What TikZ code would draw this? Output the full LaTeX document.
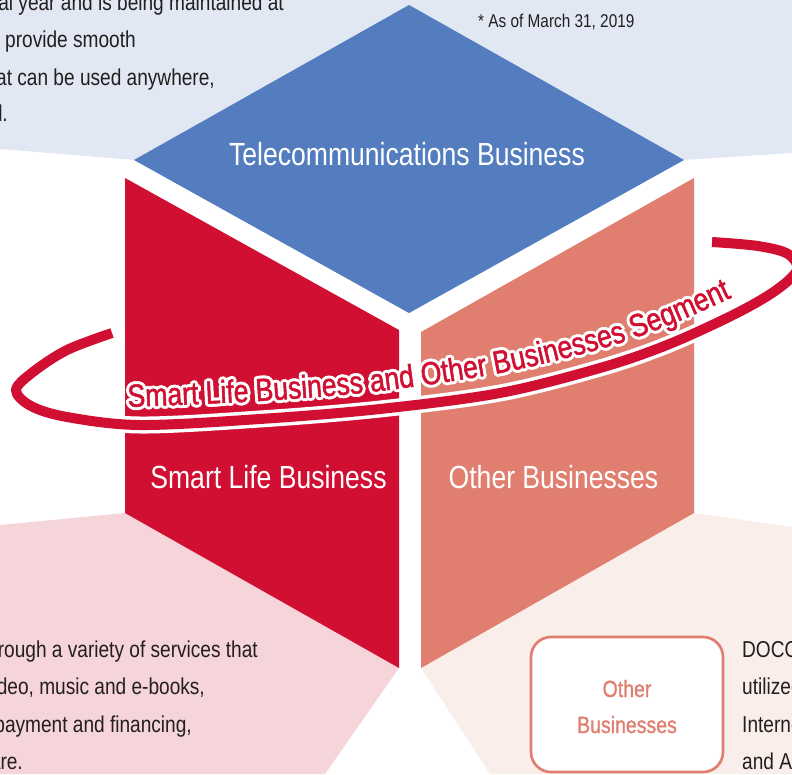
\documentclass[tikz,border=0pt]{standalone}
\usepackage{fontspec}
\setmainfont{Liberation Sans}[FakeStretch=0.83]
\newfontfamily\ringfamily{Liberation Sans}[FakeStretch=0.83, FakeBold=1.5]
\newfontfamily\boxfamily{Liberation Sans}[FakeStretch=0.83, FakeBold=1]
\usetikzlibrary{decorations.text}
\definecolor{bgblue}{HTML}{E1E7F3}
\definecolor{teleblue}{HTML}{537DBF}
\definecolor{smartred}{HTML}{D10F32}
\definecolor{othersal}{HTML}{E07F6F}
\definecolor{bgpink}{HTML}{F5D4DA}
\definecolor{bgsal}{HTML}{FAEEEB}
\definecolor{bodytext}{HTML}{231F20}
\newcommand\ringwhite{\ringfamily\fontsize{32}{36}\selectfont\color{white}}
\newcommand\ringred{\ringfamily\fontsize{32}{36}\selectfont\color{smartred}}
\tikzset{
  bodyline/.style={inner sep=0pt, text=bodytext, font=\fontsize{23}{27}\selectfont},
  panellabel/.style={inner sep=0pt, text=white, font=\fontsize{32}{38}\selectfont},
  notetext/.style={inner sep=0pt, text=bodytext, font=\fontsize{18.5}{22}\selectfont},
  boxlabel/.style={inner sep=0pt, text=othersal, font=\boxfamily\fontsize{23.5}{28}\selectfont},
  otherbox/.style={draw=othersal, line width=2.7pt, rounded corners=20pt, fill=white,
    minimum width=192pt, minimum height=135pt, inner sep=0pt},
}
\begin{document}
\begin{tikzpicture}[x=1pt,y=-1pt]
\useasboundingbox (0,0) rectangle (792,774);
\clip (0,0) rectangle (792,774);
% background fields
\fill[bgblue] (0,0) -- (792,0) -- (792,153) -- (683,160) -- (409,313) -- (135,160) -- (0,149) -- cycle;
\fill[bgpink] (0,525) -- (125,513) -- (399,668) -- (325,774) -- (0,774) -- cycle;
\fill[bgsal] (694,513) -- (792,527) -- (792,774) -- (490,774) -- (421,668) -- cycle;
% cube faces
\fill[teleblue] (409,5) -- (684,160) -- (409,313) -- (134,160) -- cycle;
\fill[smartred] (125,178) -- (399,330) -- (399,668) -- (125,513) -- cycle;
\fill[othersal] (421,332) -- (694,178) -- (694,513) -- (421,668) -- cycle;
% labels
\node[panellabel, anchor=base] (tele) at (407,165) {Telecommunications Business};
\node[panellabel, anchor=base] (smart) at (268.5,488) {Smart Life Business};
\node[panellabel, anchor=base] (other) at (553.5,488) {Other Businesses};
\node[notetext, anchor=base west] (note) at (478,27) {* As of March 31, 2019};
% ring
\def\ringpath{plot[smooth, tension=0.55] coordinates {(112,333) (67,350) (33,372) (16,390) (31,406) (67,417) (140,425) (260,419) (380,409) (500,393) (600,368) (667,345) (733,315) (775,291) (797,270) (788,254) (758,246) (712,242)}}
\draw[white, line width=17pt, line cap=butt] \ringpath;
\draw[smartred, line width=10pt, line cap=butt] \ringpath;
% ring text with white outline
\foreach \a in {0,30,...,330} {
  \path[shift={(\a:3)}, decorate, decoration={text along path,
    text={|\ringwhite|Smart Life Business and Other Businesses Segment}}]
    plot[smooth, tension=0.55] coordinates {(128,407) (260,401) (380,391) (500,373) (600,349) (667,326) (733,297) (775,276)};
}
\path[decorate, decoration={text along path,
    text={|\ringred|Smart Life Business and Other Businesses Segment}}]
    plot[smooth, tension=0.55] coordinates {(128,407) (260,401) (380,391) (500,373) (600,349) (667,326) (733,297) (775,276)};
% body texts
\node[bodyline, anchor=base east] (t1) at (284,10) {al year and is being maintained at};
\node[bodyline, anchor=base west] (t2) at (5,47) {provide smooth};
\node[bodyline, anchor=base east] (t3) at (215,85) {at can be used anywhere,};
\node[bodyline, anchor=base east] (t4) at (8,121) {l.};
\node[bodyline, anchor=base east] (b1) at (258,657) {rough a variety of services that};
\node[bodyline, anchor=base east] (b2) at (205,694) {deo, music and e-books,};
\node[bodyline, anchor=base east] (b3) at (192,732) {payment and financing,};
\node[bodyline, anchor=base east] (b4) at (23,769) {are.};
\node[bodyline, anchor=base west] (r1) at (742,657) {DOCO};
\node[bodyline, anchor=base west] (r2) at (742,694) {utilized};
\node[bodyline, anchor=base west] (r3) at (742,732) {Interne};
\node[bodyline, anchor=base west] (r4) at (742,769) {and A};
% other businesses box
\node[otherbox] (obox) at (627,704.5) {};
\node[boxlabel, anchor=base] (ob1) at (627,697) {Other};
\node[boxlabel, anchor=base] (ob2) at (627,733) {Businesses};
\end{tikzpicture}
\end{document}
